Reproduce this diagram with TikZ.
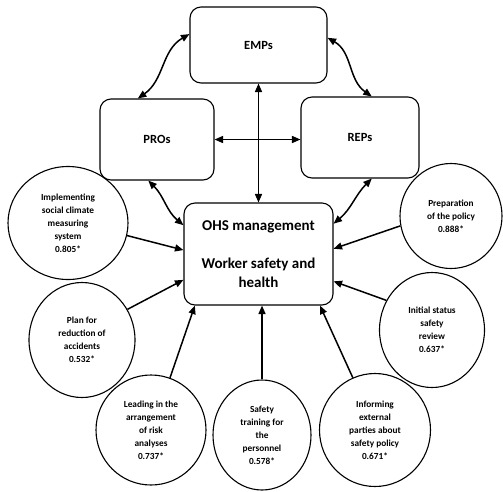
\documentclass[tikz,border=0pt]{standalone}
\usepackage{fontspec}
\setmainfont{Carlito}
\usetikzlibrary{arrows.meta,shapes.geometric}

\begin{document}
\begin{tikzpicture}[x=1pt,y=-1pt,
  box/.style={draw,line width=1.1pt,rounded corners=11pt,align=center,
    font=\bfseries\fontsize{12.5}{14}\selectfont},
  bubble/.style={draw,ellipse,line width=1.1pt,inner sep=0pt,align=center,
    font=\bfseries\fontsize{9.3}{13}\selectfont},
  tip/.tip={Triangle[length=8.5pt,width=7pt]},
  link/.style={line width=1.5pt,tip-tip},
  feed/.style={line width=1.5pt,-tip}]
\useasboundingbox (0,0) rectangle (503,491);

% the four actors
\node[box,minimum width=137pt,minimum height=76pt] (emps) at (258.5,45) {EMPs};
\node[box,minimum width=114pt,minimum height=81pt] (pros) at (157,139.5) {PROs};
\node[box,minimum width=118pt,minimum height=81pt] (reps) at (360,137.5) {REPs};
\node[box,minimum width=149pt,minimum height=102pt,
  font=\bfseries\fontsize{15}{19}\selectfont] (ohs) at (258.5,254)
  {OHS management\\[19pt]Worker safety and\\health};

% contributing factors
\node[bubble,minimum width=120pt,minimum height=113pt] (impl) at (68,223)
  {Implementing\\social climate\\measuring\\system\\0.805*};
\node[bubble,minimum width=102pt,minimum height=105pt] (prep) at (451,216)
  {Preparation\\of the policy\\0.888*};
\node[bubble,minimum width=106pt,minimum height=115pt] (plan) at (82,340)
  {Plan for\\reduction of\\accidents\\0.532*};
\node[bubble,minimum width=105pt,minimum height=115pt] (init) at (432,330)
  {Initial status\\safety\\review\\0.637*};
\node[bubble,minimum width=110pt,minimum height=110pt] (lead) at (151,430)
  {Leading in the\\arrangement\\of risk\\analyses\\0.737*};
\node[bubble,minimum width=98pt,minimum height=110pt] (train) at (262,435)
  {Safety\\training for\\the\\personnel\\0.578*};
\node[bubble,minimum width=111pt,minimum height=113pt] (inform) at (375,430)
  {Informing\\external\\parties about\\safety policy\\0.671*};

% links between the actors
\draw[link] (emps.171) to[out=210,in=35] (pros.115);
\draw[link] (emps.6) to[out=-30,in=145] (reps.74);
\draw[link] (pros.258) to[out=-45,in=140] (ohs.159);
\draw[link] (reps.286) to[out=225,in=40] (ohs.22);
\draw[link] (emps.south) -- (ohs.north);
\draw[link] (pros.east) -- (pros.east -| reps.west);

% factors feeding OHS management
\draw[feed] (impl.-12) -- (ohs.177);
\draw[feed] (plan.34) -- (ohs.199);
\draw[feed] (lead.70) -- (ohs.219);
\draw[feed] (train.north) -- (train.north |- ohs.south);
\draw[feed] (inform.113) -- (ohs.320);
\draw[feed] (init.147) -- (ohs.340);
\draw[feed] (prep.191) -- (ohs.4.6);
\end{tikzpicture}
\end{document}
